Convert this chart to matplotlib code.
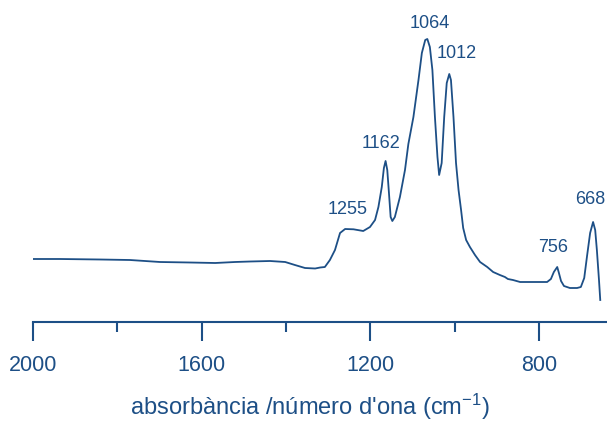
import matplotlib
matplotlib.use("Agg")
import matplotlib.pyplot as plt

# IR spectrum (wavenumber in cm-1, absorbance in arbitrary units)
wavenumber = [2000, 1936, 1841, 1770, 1699, 1628, 1568, 1521, 1485, 1438,
              1402, 1379, 1355, 1331, 1319, 1308, 1296, 1284, 1272, 1260,
              1240, 1217, 1201, 1189, 1181, 1173, 1168, 1164, 1160, 1156,
              1152, 1148, 1142, 1130, 1118, 1110, 1098, 1086, 1078, 1070,
              1065, 1059, 1053, 1047, 1041, 1037, 1031, 1025, 1019, 1013,
              1009, 1003, 997, 991, 985, 980, 973, 964, 952, 940,
              923, 909, 893, 881, 874, 862, 845, 810, 781, 772,
              765, 757, 753, 748, 741, 727, 710, 701, 693, 686,
              679, 672, 667, 663, 658, 655]
absorbance = [63, 63, 62.5, 62, 60, 59.5, 59, 60, 60.5, 61,
              60, 57, 54, 53.5, 54.5, 55, 62, 72, 89, 93,
              92.7, 91, 95, 102, 115, 135, 154, 161, 152, 129,
              105, 101, 105, 125, 152, 178, 205, 242, 269, 282,
              283, 275, 252, 205, 165, 147, 159, 205, 239, 248,
              242, 205, 159, 132, 112, 94, 82, 75, 67, 60,
              55, 50, 47, 45, 43, 42, 40, 40, 40, 43,
              50, 55, 49, 41, 36, 34, 34, 35, 44, 67,
              89, 100, 92, 72, 42, 22]

peak_labels = ["1255", "1162", "1064", "1012", "756", "668"]

# where each peak label is placed (data coordinates)
label_x = [1255, 1175, 1059, 995, 767, 679]
label_y = [113, 179, 299, 269, 75, 123]

blue = "#1d4f86"

plt.rcParams["font.family"] = ["Liberation Sans", "DejaVu Sans"]
plt.rcParams["mathtext.fontset"] = "custom"
plt.rcParams["mathtext.rm"] = "Liberation Sans"
plt.rcParams["mathtext.it"] = "Liberation Sans"

fig = plt.figure(figsize=(6.07, 4.24), dpi=100)
ax = fig.add_axes([33 / 607, 102 / 424, 1 - 33 / 607, 322 / 424])

ax.plot(wavenumber, absorbance, color=blue, lw=1.3, solid_joinstyle="round")

for txt, x, y in zip(peak_labels, label_x, label_y):
    ax.text(x, y, txt, color=blue, fontsize=13, ha="center", va="center")

ax.set_xlim(2000, 639)
ax.set_ylim(0, 322)

for side in ["top", "right", "left"]:
    ax.spines[side].set_visible(False)
ax.spines["bottom"].set_color(blue)
ax.spines["bottom"].set_linewidth(1.5)

ax.set_yticks([])
ax.set_xticks([2000, 1600, 1200, 800])
ax.set_xticks([1800, 1400, 1000], minor=True)
ax.tick_params(axis="x", which="major", length=13.5, width=1.5, color=blue,
               labelcolor=blue, labelsize=15.5, pad=10.5)
ax.tick_params(axis="x", which="minor", length=7, width=1.5, color=blue)
ax.set_xlabel("absorbància /número d'ona (cm$^{-1}$)", color=blue, fontsize=17)
# label is centred a bit left of the axis centre in the original
ax.xaxis.set_label_coords(0.483, -0.218)
ax.patch.set_visible(False)

fig.savefig("out.png", dpi=100)
